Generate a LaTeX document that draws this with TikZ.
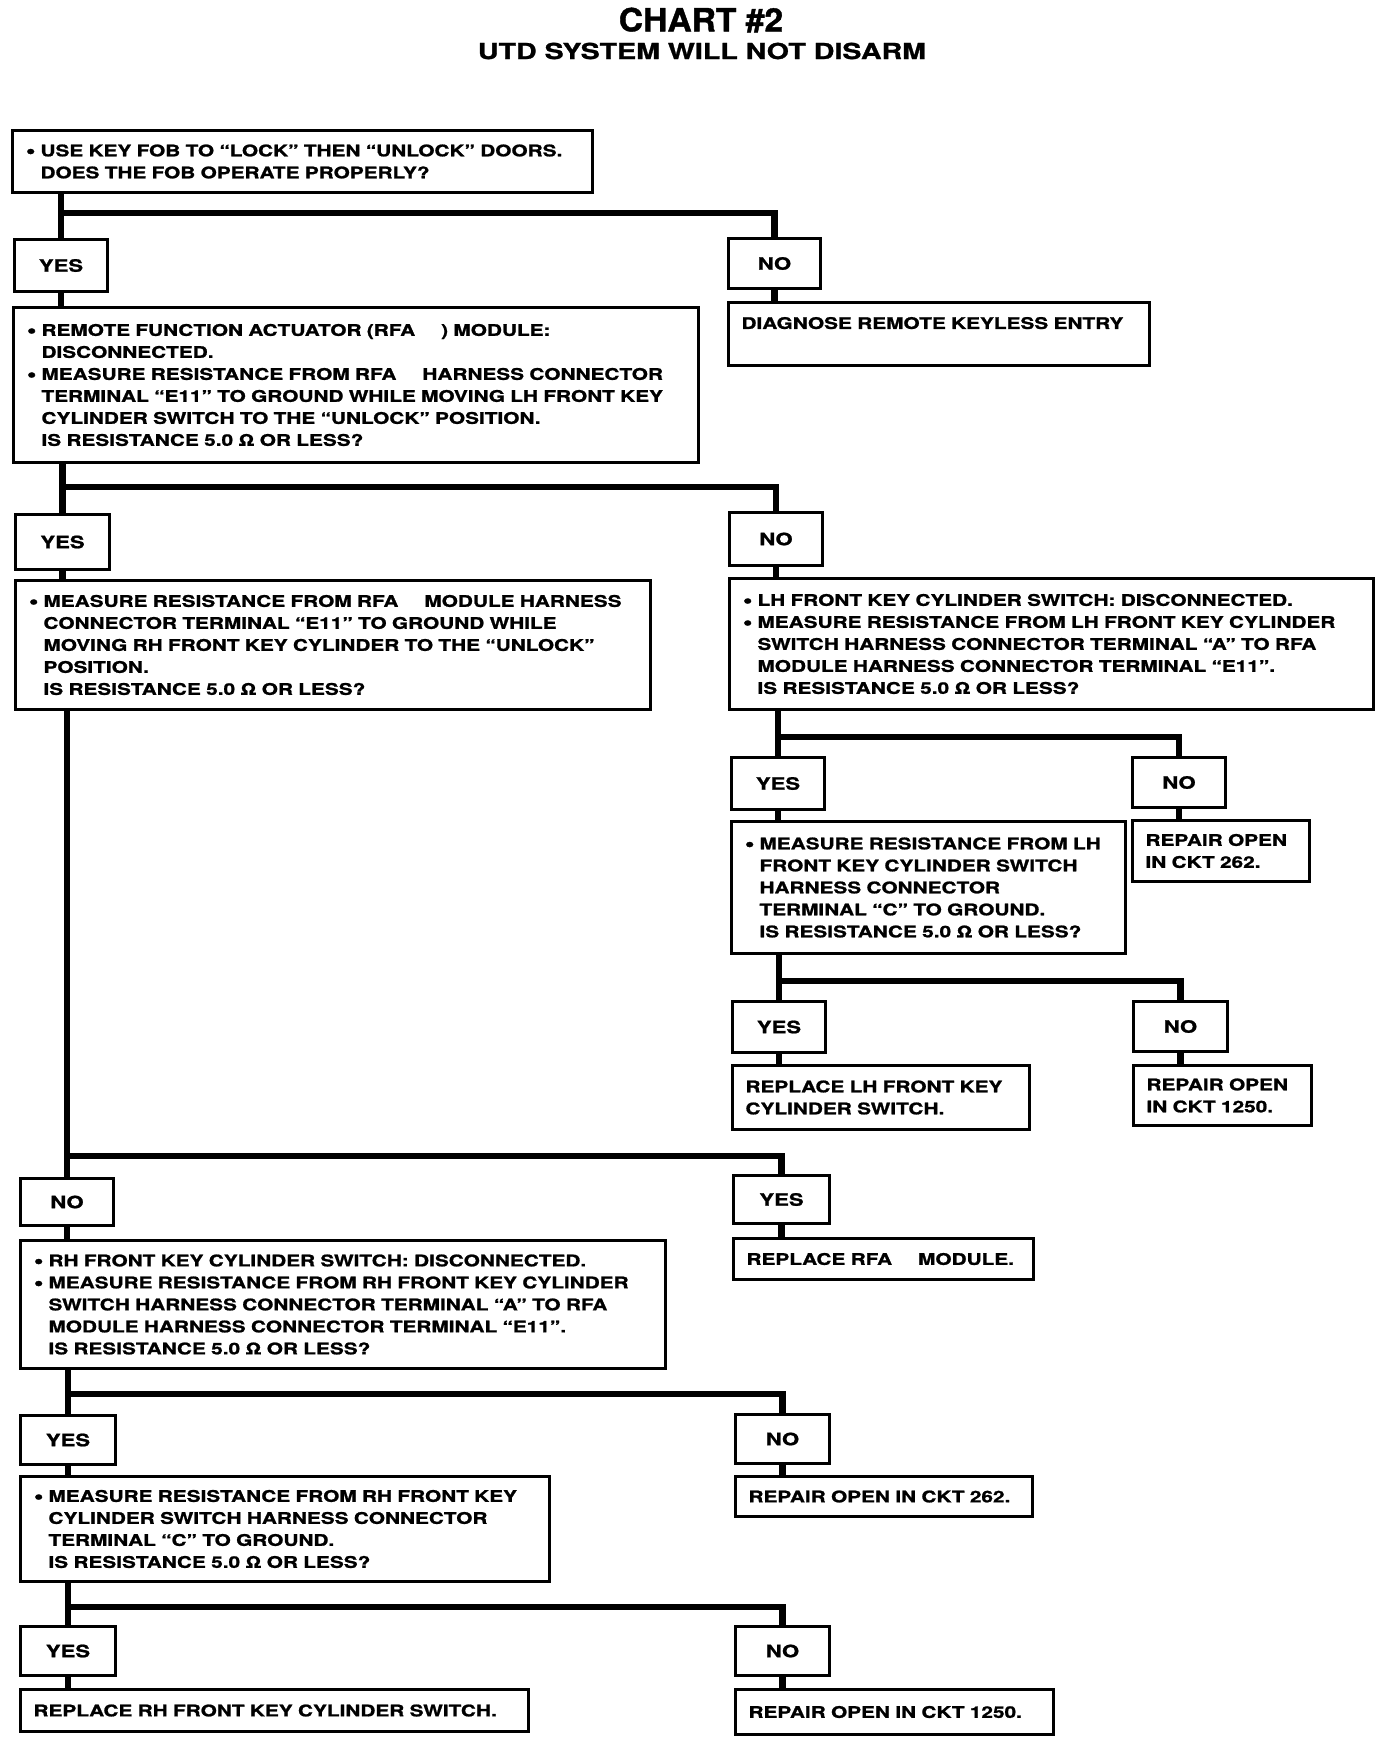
\documentclass[tikz,border=0pt]{standalone}
\usepackage{fontspec}
\setmainfont{TeX Gyre Heros}[FakeStretch=1.3, BoldFeatures={FakeBold=1.2}]
\newfontfamily\titlefont{TeX Gyre Heros}[FakeStretch=1.05, BoldFeatures={FakeBold=1.2}]
\usepackage{tikz}
\newcommand\chartfont{\fontsize{16}{22}\selectfont\bfseries}
\newcommand\bul{\leavevmode\llap{\raisebox{-1.5pt}{\fontsize{21}{21}\selectfont\textbullet}\hspace{5pt}}}
\newcommand\rfagap{\hspace{26pt}}
\tikzset{
  chartbox/.style = {draw, line width=3pt, anchor=north west, align=left,
                     inner xsep=11pt, inner ysep=0pt, font=\chartfont},
  askbox/.style   = {chartbox, execute at begin node={\leftskip=17pt\relax}},
  fixbox/.style   = {chartbox, inner xsep=13pt},
  ansbox/.style   = {draw, line width=3pt, anchor=north west, align=center,
                     inner sep=0pt, font=\fontsize{17}{17}\selectfont\bfseries},
  link/.style     = {draw, line width=6.5pt, line join=miter},
}

\begin{document}
\begin{tikzpicture}[x=1pt, y=-1pt]
    \useasboundingbox[fill=white] (0,0) rectangle (1392,1742);

    % ---------- heading -------------------------------------------------
    \node[font=\titlefont\fontsize{32}{32}\selectfont\bfseries] (title) at (701,20) {CHART \#2};
    \node[font=\fontsize{22}{22}\selectfont\bfseries] (subtitle) at (702,51)
      {UTD SYSTEM WILL NOT DISARM};

    % ---------- questions -----------------------------------------------
    \node[askbox, text width=558pt, minimum height=62pt] (q1) at (11,129)
      {\bul USE KEY FOB TO “LOCK” THEN “UNLOCK” DOORS.\\
       DOES THE FOB OPERATE PROPERLY?};
    \node[askbox, text width=663pt, minimum height=155pt] (q2) at (12,306)
      {\bul REMOTE FUNCTION ACTUATOR (RFA\rfagap) MODULE:\\
       DISCONNECTED.\\
       \bul MEASURE RESISTANCE FROM RFA\rfagap HARNESS CONNECTOR\\
       TERMINAL “E11” TO GROUND WHILE MOVING LH FRONT KEY\\
       CYLINDER SWITCH TO THE “UNLOCK” POSITION.\\
       IS RESISTANCE 5.0 Ω OR LESS?};
    \node[askbox, text width=613pt, minimum height=129pt] (q3) at (14,579)
      {\bul MEASURE RESISTANCE FROM RFA\rfagap MODULE HARNESS\\
       CONNECTOR TERMINAL “E11” TO GROUND WHILE\\
       MOVING RH FRONT KEY CYLINDER TO THE “UNLOCK”\\
       POSITION.\\
       IS RESISTANCE 5.0 Ω OR LESS?};
    \node[askbox, text width=622pt, minimum height=131pt] (q4) at (728,577)
      {\bul LH FRONT KEY CYLINDER SWITCH: DISCONNECTED.\\
       \bul MEASURE RESISTANCE FROM LH FRONT KEY CYLINDER\\
       SWITCH HARNESS CONNECTOR TERMINAL “A” TO RFA\\
       MODULE HARNESS CONNECTOR TERMINAL “E11”.\\
       IS RESISTANCE 5.0 Ω OR LESS?};
    \node[askbox, text width=372pt, minimum height=132pt] (q5) at (730,820)
      {\bul MEASURE RESISTANCE FROM LH\\
       FRONT KEY CYLINDER SWITCH\\
       HARNESS CONNECTOR\\
       TERMINAL “C” TO GROUND.\\
       IS RESISTANCE 5.0 Ω OR LESS?};
    \node[askbox, text width=623pt, minimum height=128pt] (q6) at (19,1239)
      {\bul RH FRONT KEY CYLINDER SWITCH: DISCONNECTED.\\
       \bul MEASURE RESISTANCE FROM RH FRONT KEY CYLINDER\\
       SWITCH HARNESS CONNECTOR TERMINAL “A” TO RFA\\
       MODULE HARNESS CONNECTOR TERMINAL “E11”.\\
       IS RESISTANCE 5.0 Ω OR LESS?};
    \node[askbox, text width=507pt, minimum height=105pt] (q7) at (19,1475)
      {\bul MEASURE RESISTANCE FROM RH FRONT KEY\\
       CYLINDER SWITCH HARNESS CONNECTOR\\
       TERMINAL “C” TO GROUND.\\
       IS RESISTANCE 5.0 Ω OR LESS?};

    % ---------- answers -------------------------------------------------
    \node[ansbox, minimum width=93pt, minimum height=52pt] (yes1) at (13,238)   {YES};
    \node[ansbox, minimum width=92pt, minimum height=50pt] (no1)  at (727,237)  {NO};
    \node[ansbox, minimum width=94pt, minimum height=55pt] (yes2) at (14,513)   {YES};
    \node[ansbox, minimum width=93pt, minimum height=53pt] (no2)  at (728,511)  {NO};
    \node[ansbox, minimum width=93pt, minimum height=52pt] (yes3) at (730,756)  {YES};
    \node[ansbox, minimum width=93pt, minimum height=50pt] (no3)  at (1131,756) {NO};
    \node[ansbox, minimum width=93pt, minimum height=51pt] (yes4) at (731,1000) {YES};
    \node[ansbox, minimum width=94pt, minimum height=50pt] (no4)  at (1132,1000) {NO};
    \node[ansbox, minimum width=93pt, minimum height=47pt] (no5)  at (19,1177)  {NO};
    \node[ansbox, minimum width=96pt, minimum height=48pt] (yes5) at (732,1174) {YES};
    \node[ansbox, minimum width=95pt, minimum height=49pt] (yes6) at (19,1414)  {YES};
    \node[ansbox, minimum width=94pt, minimum height=49pt] (no6)  at (734,1413) {NO};
    \node[ansbox, minimum width=95pt, minimum height=49pt] (yes7) at (19,1625)  {YES};
    \node[ansbox, minimum width=94pt, minimum height=49pt] (no7)  at (734,1625) {NO};

    % ---------- actions -------------------------------------------------
    \node[fixbox, text width=395pt, minimum height=63pt] (diag) at (727,301)
      {DIAGNOSE REMOTE KEYLESS ENTRY\\ \mbox{}};
    \node[fixbox, text width=151pt, minimum height=61pt] (fix1) at (1131,819)
      {REPAIR OPEN\\IN CKT 262.};
    \node[fixbox, text width=271pt, minimum height=64pt] (fix2) at (731,1064)
      {REPLACE LH FRONT KEY\\CYLINDER SWITCH.};
    \node[fixbox, text width=152pt, minimum height=60pt] (fix3) at (1132,1064)
      {REPAIR OPEN\\IN CKT 1250.};
    \node[fixbox, text width=274pt, minimum height=41pt] (fix4) at (732,1237)
      {REPLACE RFA\rfagap MODULE.};
    \node[fixbox, text width=271pt, minimum height=40pt] (fix5) at (734,1475)
      {REPAIR OPEN IN CKT 262.};
    \node[fixbox, text width=482pt, minimum height=42pt] (fix6) at (19,1688)
      {REPLACE RH FRONT KEY CYLINDER SWITCH.};
    \node[fixbox, text width=292pt, minimum height=45pt] (fix7) at (734,1688)
      {REPAIR OPEN IN CKT 1250.};

    % ---------- branch points -------------------------------------------
    \coordinate (j1) at (yes1.north |- 0,213);
    \coordinate (j2) at (yes2.north |- 0,487);
    \coordinate (j3) at (yes3.north |- 0,737);
    \coordinate (j4) at (yes4.north |- 0,981);
    \coordinate (j5) at (no5.north  |- 0,1156);
    \coordinate (j6) at (yes6.north |- 0,1394);
    \coordinate (j7) at (yes7.north |- 0,1607);

    % ---------- connectors ----------------------------------------------
    \draw[link] (q1.south -| j1) -- (yes1.north);
    \draw[link] (j1) -| (no1.north);
    \draw[link] (yes1.south) -- (yes1.south |- q2.north);
    \draw[link] (no1.south) -- (no1.south |- diag.north);

    \draw[link] (q2.south -| j2) -- (yes2.north);
    \draw[link] (j2) -| (no2.north);
    \draw[link] (yes2.south) -- (yes2.south |- q3.north);
    \draw[link] (no2.south) -- (no2.south |- q4.north);

    \draw[link] (q4.south -| j3) -- (yes3.north);
    \draw[link] (j3) -| (no3.north);
    \draw[link] (yes3.south) -- (yes3.south |- q5.north);
    \draw[link] (no3.south) -- (no3.south |- fix1.north);

    \draw[link] (q5.south -| j4) -- (yes4.north);
    \draw[link] (j4) -| (no4.north);
    \draw[link] (yes4.south) -- (yes4.south |- fix2.north);
    \draw[link] (no4.south) -- (no4.south |- fix3.north);

    \draw[link] (q3.south -| j5) -- (no5.north);
    \draw[link] (j5) -| (yes5.north);
    \draw[link] (no5.south) -- (no5.south |- q6.north);
    \draw[link] (yes5.south) -- (yes5.south |- fix4.north);

    \draw[link] (q6.south -| j6) -- (yes6.north);
    \draw[link] (j6) -| (no6.north);
    \draw[link] (yes6.south) -- (yes6.south |- q7.north);
    \draw[link] (no6.south) -- (no6.south |- fix5.north);

    \draw[link] (q7.south -| j7) -- (yes7.north);
    \draw[link] (j7) -| (no7.north);
    \draw[link] (yes7.south) -- (yes7.south |- fix6.north);
    \draw[link] (no7.south) -- (no7.south |- fix7.north);

\end{tikzpicture}
\end{document}
